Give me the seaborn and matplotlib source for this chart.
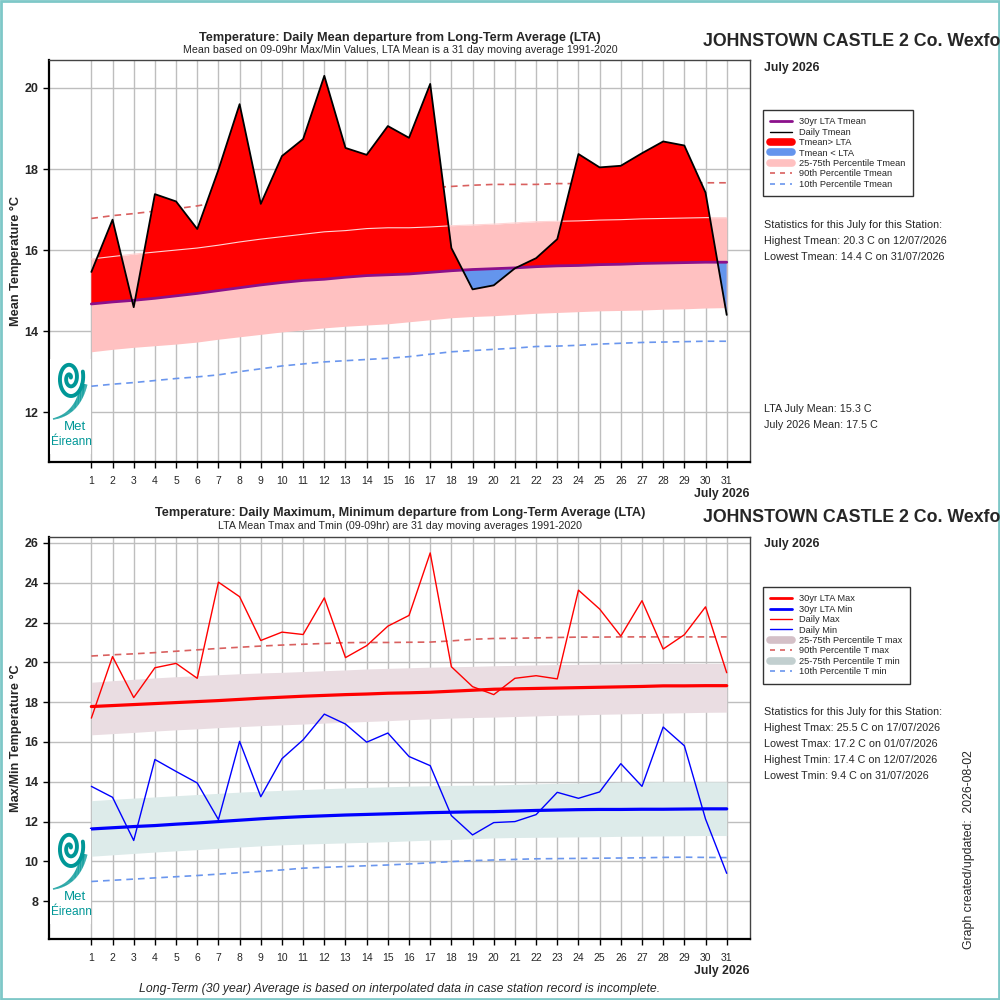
import numpy as np
import pandas as pd
import matplotlib
matplotlib.use("Agg")
import matplotlib.pyplot as plt
from matplotlib.lines import Line2D
from matplotlib.patches import Rectangle
import seaborn as sns

# ---------------- data ----------------
days = list(range(1, 32))
day_labels = [str(d) for d in days]

tmean = [15.46, 16.75, 14.59, 17.38, 17.2, 16.52, 17.98, 19.6, 17.14, 18.32, 18.74, 20.3,
         18.52, 18.35, 19.06, 18.77, 20.1, 16.05, 15.03, 15.13, 15.55, 15.8, 16.27, 18.37,
         18.04, 18.08, 18.39, 18.68, 18.58, 17.42, 14.4]
lta_mean = [14.67, 14.72, 14.76, 14.81, 14.87, 14.93, 15.0, 15.07, 15.14, 15.2, 15.25, 15.28,
            15.33, 15.37, 15.39, 15.41, 15.45, 15.49, 15.52, 15.54, 15.56, 15.59, 15.61, 15.62,
            15.64, 15.65, 15.67, 15.68, 15.69, 15.70, 15.70]
mean_p25 = [13.49, 13.55, 13.6, 13.64, 13.68, 13.73, 13.8, 13.86, 13.92, 13.98, 14.03, 14.08,
            14.12, 14.15, 14.18, 14.23, 14.28, 14.33, 14.36, 14.38, 14.41, 14.44, 14.46, 14.48,
            14.5, 14.51, 14.52, 14.54, 14.55, 14.57, 14.58]
mean_p75 = [15.78, 15.84, 15.9, 15.95, 16.0, 16.05, 16.12, 16.2, 16.27, 16.33, 16.39, 16.45,
            16.48, 16.53, 16.55, 16.55, 16.57, 16.6, 16.62, 16.64, 16.67, 16.7, 16.71, 16.72,
            16.74, 16.75, 16.77, 16.78, 16.79, 16.8, 16.8]
mean_p90 = [16.78, 16.85, 16.9, 16.96, 17.02, 17.09, 17.18, 17.28, 17.35, 17.4, 17.46, 17.5,
            17.54, 17.57, 17.58, 17.56, 17.54, 17.57, 17.6, 17.62, 17.62, 17.62, 17.64, 17.64,
            17.64, 17.64, 17.65, 17.65, 17.66, 17.66, 17.66]
mean_p10 = [12.64, 12.69, 12.73, 12.78, 12.83, 12.87, 12.92, 13.0, 13.07, 13.14, 13.19, 13.24,
            13.27, 13.3, 13.33, 13.37, 13.43, 13.49, 13.52, 13.55, 13.58, 13.62, 13.63, 13.65,
            13.68, 13.7, 13.72, 13.73, 13.74, 13.75, 13.75]

tmax = [17.2, 20.29, 18.23, 19.73, 19.95, 19.2, 24.03, 23.3, 21.1, 21.52, 21.4, 23.24,
        20.24, 20.84, 21.82, 22.36, 25.5, 19.78, 18.78, 18.38, 19.2, 19.33, 19.17, 23.63,
        22.68, 21.32, 23.1, 20.67, 21.39, 22.79, 19.48]
tmin = [13.77, 13.22, 11.05, 15.12, 14.52, 13.94, 12.1, 16.03, 13.25, 15.16, 16.11, 17.4,
        16.9, 15.99, 16.45, 15.27, 14.81, 12.3, 11.33, 11.95, 12.0, 12.35, 13.47, 13.17,
        13.49, 14.91, 13.77, 16.75, 15.81, 12.13, 9.4]
lta_max = [17.78, 17.83, 17.88, 17.93, 17.98, 18.03, 18.08, 18.14, 18.2, 18.25, 18.3, 18.34,
           18.38, 18.41, 18.45, 18.47, 18.5, 18.55, 18.6, 18.65, 18.67, 18.69, 18.71, 18.73,
           18.75, 18.77, 18.79, 18.82, 18.82, 18.83, 18.83]
max_p25 = [16.36, 16.42, 16.48, 16.55, 16.61, 16.66, 16.72, 16.77, 16.82, 16.86, 16.9, 16.95,
           16.99, 17.03, 17.07, 17.12, 17.16, 17.2, 17.23, 17.25, 17.28, 17.31, 17.34, 17.36,
           17.39, 17.41, 17.43, 17.45, 17.47, 17.49, 17.5]
max_p75 = [19.0, 19.08, 19.15, 19.22, 19.28, 19.33, 19.38, 19.43, 19.47, 19.5, 19.54, 19.58,
           19.62, 19.67, 19.7, 19.73, 19.76, 19.78, 19.8, 19.83, 19.85, 19.87, 19.89, 19.9,
           19.92, 19.93, 19.94, 19.95, 19.95, 19.95, 19.95]
max_p90 = [20.32, 20.38, 20.43, 20.49, 20.56, 20.63, 20.7, 20.76, 20.82, 20.87, 20.91, 20.95,
           20.99, 21.0, 21.0, 21.01, 21.02, 21.08, 21.16, 21.2, 21.21, 21.23, 21.25, 21.27,
           21.27, 21.28, 21.28, 21.28, 21.28, 21.28, 21.28]
lta_min = [11.63, 11.69, 11.75, 11.8, 11.87, 11.93, 12.0, 12.07, 12.14, 12.2, 12.25, 12.29,
           12.33, 12.36, 12.39, 12.42, 12.45, 12.47, 12.49, 12.5, 12.53, 12.56, 12.58, 12.6,
           12.61, 12.61, 12.62, 12.62, 12.63, 12.64, 12.64]
min_p25 = [10.26, 10.33, 10.4, 10.47, 10.53, 10.59, 10.66, 10.72, 10.78, 10.83, 10.87, 10.9,
           10.93, 10.96, 10.99, 11.03, 11.07, 11.1, 11.14, 11.18, 11.2, 11.21, 11.22, 11.23,
           11.24, 11.26, 11.27, 11.28, 11.29, 11.3, 11.3]
min_p75 = [13.05, 13.12, 13.18, 13.24, 13.3, 13.36, 13.42, 13.48, 13.53, 13.57, 13.61, 13.65,
           13.69, 13.72, 13.75, 13.78, 13.8, 13.82, 13.83, 13.84, 13.87, 13.9, 13.92, 13.94,
           13.96, 13.98, 13.99, 14.0, 14.0, 14.0, 14.0]
min_p10 = [8.99, 9.05, 9.11, 9.17, 9.23, 9.29, 9.36, 9.43, 9.5, 9.57, 9.66, 9.7,
           9.74, 9.78, 9.82, 9.87, 9.93, 9.99, 10.04, 10.07, 10.1, 10.13, 10.14, 10.15,
           10.16, 10.17, 10.18, 10.2, 10.21, 10.2, 10.19]

top_yticks = [12, 14, 16, 18, 20]
bot_yticks = [8, 10, 12, 14, 16, 18, 20, 22, 24, 26]

station = "JOHNSTOWN CASTLE 2 Co. Wexford"
month_label = "July 2026"
top_stats = ["Statistics for this July for this Station:",
             "Highest Tmean: 20.3 C on 12/07/2026",
             "Lowest Tmean: 14.4 C on 31/07/2026"]
top_means = ["LTA July Mean: 15.3 C", "July 2026 Mean: 17.5 C"]
bot_stats = ["Statistics for this July for this Station:",
             "Highest Tmax: 25.5 C on 17/07/2026",
             "Lowest Tmax: 17.2 C on 01/07/2026",
             "Highest Tmin: 17.4 C on 12/07/2026",
             "Lowest Tmin: 9.4 C on 31/07/2026"]

# ---------------- style ----------------
sns.set_style("white")
plt.rcParams['font.family'] = ['Liberation Sans', 'DejaVu Sans']

TEAL = "#009797"
fig = plt.figure(figsize=(10, 10), dpi=100)
fig.patch.set_facecolor("white")
fig.add_artist(Rectangle((0.001, 0.001), 0.998, 0.998, transform=fig.transFigure,
                         fill=False, edgecolor="#7EC8C8", lw=2))

ax1 = fig.add_axes([0.049, 0.538, 0.701, 0.402])
ax2 = fig.add_axes([0.049, 0.061, 0.701, 0.402])

df = pd.DataFrame({"day": days, "tmean": tmean, "lta_mean": lta_mean,
                   "mean_p25": mean_p25, "mean_p75": mean_p75,
                   "mean_p90": mean_p90, "mean_p10": mean_p10,
                   "tmax": tmax, "tmin": tmin, "lta_max": lta_max, "lta_min": lta_min,
                   "max_p25": max_p25, "max_p75": max_p75, "max_p90": max_p90,
                   "min_p25": min_p25, "min_p75": min_p75, "min_p10": min_p10})


def style_axes(ax, yticks, ylim, ylabel):
    ax.set_xlim(-1, 32.1)
    ax.set_ylim(*ylim)
    ax.set_yticks(yticks)
    ax.set_yticklabels([str(t) for t in yticks], fontsize=9, fontweight="bold")
    ax.set_xticks(days)
    ax.set_xticklabels(day_labels, fontsize=7.5)
    ax.tick_params(axis="both", direction="out", length=4, width=1, color="black",
                   bottom=True, left=True)
    ax.tick_params(axis="x", pad=6)
    ax.set_axisbelow(True)
    ax.grid(True, color="#BEBEBE", lw=1)
    ax.set_xlabel("")
    ax.set_ylabel(ylabel, fontsize=9.2, fontweight="bold", labelpad=2)
    for s in ["left", "bottom"]:
        ax.spines[s].set_color("black")
        ax.spines[s].set_linewidth(1.6)
    for s in ["top", "right"]:
        ax.spines[s].set_color("#444444")
        ax.spines[s].set_linewidth(1.0)
    ax.text(1.0, -0.065, month_label, transform=ax.transAxes, ha="right", va="top",
            fontsize=8.8, fontweight="bold")


def add_logo(ax_parent, rect):
    ax_parent.add_patch(Rectangle((rect[0], rect[1]), rect[2], rect[3],
                                  transform=fig.transFigure, facecolor="white",
                                  edgecolor="none", zorder=5))
    lg = fig.add_axes(rect)
    lg.set_xlim(0, 41)
    lg.set_ylim(0, 95)
    lg.axis("off")
    th = np.linspace(0.3, 4.1 * np.pi, 400)
    r = 0.6 + 1.0 * th
    lg.plot(20 + r * np.cos(th), 76 + 1.55 * r * np.sin(th), color=TEAL, lw=2.8,
            solid_capstyle="round")
    t = np.linspace(0, 1, 60)
    px = (1 - t) ** 2 * 3 + 2 * (1 - t) * t * 28 + t ** 2 * 34
    py = (1 - t) ** 2 * 35 + 2 * (1 - t) * t * 40 + t ** 2 * 70
    lw_t = np.linspace(1.0, 5.0, 59)
    for i in range(len(t) - 1):
        lg.plot(px[i:i + 2], py[i:i + 2], color=TEAL, lw=lw_t[i], solid_capstyle="butt")
    lg.text(25, 27, "Met", color=TEAL, fontsize=9.5, ha="center", va="center")
    lg.text(21, 12, "\u00c9ireann", color=TEAL, fontsize=8.6, ha="center", va="center")


# ---------------- top chart ----------------
ax = ax1
ax.fill_between(df["day"], df["mean_p25"], df["mean_p75"], color="#FFC1C1", lw=0, zorder=1)
sns.lineplot(data=df, x="day", y="mean_p90", ax=ax, color="#D9605F", lw=1.2,
             linestyle=(0, (4, 3)), zorder=2)
sns.lineplot(data=df, x="day", y="mean_p10", ax=ax, color="#6A96EE", lw=1.2,
             linestyle=(0, (4, 3)), zorder=2)
tm = np.array(tmean)
lm = np.array(lta_mean)
ax.fill_between(df["day"], tm, lm, where=tm >= lm, interpolate=True, color="#FF0000",
                lw=0, zorder=3)
ax.fill_between(df["day"], tm, lm, where=tm <= lm, interpolate=True, color="#6495ED",
                lw=0, zorder=3)
sns.lineplot(data=df, x="day", y="mean_p75", ax=ax, color="#FFD5D5", lw=0.8, zorder=3.5)
sns.lineplot(data=df, x="day", y="lta_mean", ax=ax, color="#8B108B", lw=2, zorder=4)
sns.lineplot(data=df, x="day", y="tmean", ax=ax, color="black", lw=1.3, zorder=4.5)
style_axes(ax, top_yticks, (10.77, 20.69), "Mean Temperature \u00b0C")
add_logo(ax, [0.050, 0.546, 0.041, 0.095])

fig.text(0.400, 0.962, "Temperature: Daily Mean departure from Long-Term Average (LTA)",
         ha="center", va="center", fontsize=9.2, fontweight="bold")
fig.text(0.400, 0.950, "Mean based on 09-09hr Max/Min Values, LTA Mean is a 31 day moving average 1991-2020",
         ha="center", va="center", fontsize=7.65)
fig.text(0.703, 0.958, station, ha="left", va="center", fontsize=12.8, fontweight="bold")
fig.text(0.764, 0.932, month_label, ha="left", va="center", fontsize=8.8, fontweight="bold")

h_top = [Line2D([], [], color="#8B108B", lw=2),
         Line2D([], [], color="black", lw=1),
         Line2D([], [], color="#FF0000", lw=5.5, solid_capstyle="round"),
         Line2D([], [], color="#6495ED", lw=5.5, solid_capstyle="round"),
         Line2D([], [], color="#FFC1C1", lw=5.5, solid_capstyle="round"),
         Line2D([], [], color="#D9605F", lw=1.2, linestyle=(0, (3, 3))),
         Line2D([], [], color="#6A96EE", lw=1.2, linestyle=(0, (3, 3)))]
l_top = ["30yr LTA Tmean", "Daily Tmean", "Tmean> LTA", "Tmean < LTA",
         "25-75th Percentile Tmean", "90th Percentile Tmean", "10th Percentile Tmean"]
leg1 = fig.legend(h_top, l_top, loc="upper left", bbox_to_anchor=(0.763, 0.890),
                  fontsize=6.7, frameon=True, fancybox=False, edgecolor="black",
                  handlelength=2.3, handletextpad=0.8, labelspacing=0.15,
                  borderpad=0.8, borderaxespad=0)
leg1.get_frame().set_linewidth(1.0)

for i, s in enumerate(top_stats):
    fig.text(0.764, 0.775 - i * 0.016, s, ha="left", va="center", fontsize=7.75)
for i, s in enumerate(top_means):
    fig.text(0.764, 0.591 - i * 0.016, s, ha="left", va="center", fontsize=7.75)

# ---------------- bottom chart ----------------
ax = ax2
ax.fill_between(df["day"], df["max_p25"], df["max_p75"], color="#EADDE2", lw=0, zorder=1)
ax.fill_between(df["day"], df["min_p25"], df["min_p75"], color="#DDEBEA", lw=0, zorder=1)
sns.lineplot(data=df, x="day", y="max_p90", ax=ax, color="#D9605F", lw=1.2,
             linestyle=(0, (4, 3)), zorder=2)
sns.lineplot(data=df, x="day", y="min_p10", ax=ax, color="#6A96EE", lw=1.2,
             linestyle=(0, (4, 3)), zorder=2)
sns.lineplot(data=df, x="day", y="lta_max", ax=ax, color="#FF0000", lw=2.3, zorder=3)
sns.lineplot(data=df, x="day", y="lta_min", ax=ax, color="#0000FF", lw=2.3, zorder=3)
sns.lineplot(data=df, x="day", y="tmax", ax=ax, color="#FF0000", lw=1.0, zorder=4)
sns.lineplot(data=df, x="day", y="tmin", ax=ax, color="#0000FF", lw=1.0, zorder=4)
style_axes(ax, bot_yticks, (6.1, 26.3), "Max/Min Temperature \u00b0C")
add_logo(ax, [0.050, 0.076, 0.041, 0.095])

fig.text(0.400, 0.487, "Temperature: Daily Maximum, Minimum departure from Long-Term Average (LTA)",
         ha="center", va="center", fontsize=9.2, fontweight="bold")
fig.text(0.400, 0.474, "LTA Mean Tmax and Tmin (09-09hr) are 31 day moving averages 1991-2020",
         ha="center", va="center", fontsize=7.65)
fig.text(0.703, 0.482, station, ha="left", va="center", fontsize=12.8, fontweight="bold")
fig.text(0.764, 0.456, month_label, ha="left", va="center", fontsize=8.8, fontweight="bold")

h_bot = [Line2D([], [], color="#FF0000", lw=2),
         Line2D([], [], color="#0000FF", lw=2),
         Line2D([], [], color="#FF0000", lw=1),
         Line2D([], [], color="#0000FF", lw=1),
         Line2D([], [], color="#D4C0C7", lw=5.5, solid_capstyle="round"),
         Line2D([], [], color="#D9605F", lw=1.2, linestyle=(0, (3, 3))),
         Line2D([], [], color="#C2CFCF", lw=5.5, solid_capstyle="round"),
         Line2D([], [], color="#6A96EE", lw=1.2, linestyle=(0, (3, 3)))]
l_bot = ["30yr LTA Max", "30yr LTA Min", "Daily Max", "Daily Min",
         "25-75th Percentile T max", "90th Percentile T max",
         "25-75th Percentile T min", "10th Percentile T min"]
leg2 = fig.legend(h_bot, l_bot, loc="upper left", bbox_to_anchor=(0.763, 0.413),
                  fontsize=6.7, frameon=True, fancybox=False, edgecolor="black",
                  handlelength=2.3, handletextpad=0.8, labelspacing=0.15,
                  borderpad=0.8, borderaxespad=0)
leg2.get_frame().set_linewidth(1.0)

for i, s in enumerate(bot_stats):
    fig.text(0.764, 0.288 - i * 0.016, s, ha="left", va="center", fontsize=7.75)

fig.text(0.969, 0.150, "Graph created/updated:  2026-08-02", rotation=90,
         ha="center", va="center", fontsize=8.8)
fig.text(0.400, 0.011,
         "Long-Term (30 year) Average is based on interpolated data in case station record is incomplete.",
         ha="center", va="center", fontsize=8.8, style="italic")

fig.savefig("out.png", dpi=100, facecolor="white")
